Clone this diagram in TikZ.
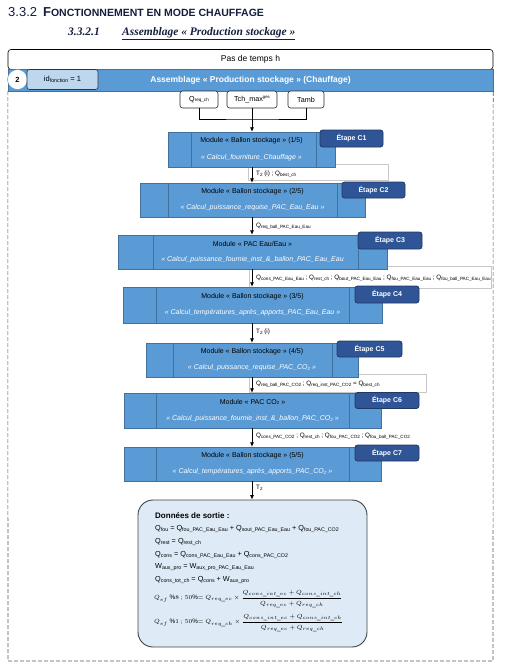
\documentclass[tikz,border=0pt]{standalone}
\usepackage{fontspec}
\setmainfont{Liberation Sans}
\newfontfamily\timesfont{Liberation Serif}
\usetikzlibrary{calc,arrows.meta}
\definecolor{modblue}{HTML}{5B9BD5}
\definecolor{modedge}{HTML}{41719C}
\definecolor{etape}{HTML}{2F5597}
\definecolor{etapeedge}{HTML}{1F3864}
\definecolor{lightfill}{HTML}{BDD7EE}
\definecolor{outfill}{HTML}{DEEBF7}
\definecolor{headnavy}{HTML}{141E3C}
\newcommand{\sbs}[1]{\raisebox{-0.8pt}{\fontsize{4.6}{5}\selectfont #1}}
\newcommand{\sbo}[1]{\raisebox{-0.9pt}{\fontsize{5.3}{6}\selectfont #1}}
\newcommand{\sps}[1]{\raisebox{2.4pt}{\fontsize{4.3}{5}\selectfont #1}}
\newcommand{\cotwo}{CO\raisebox{-0.9pt}{\fontsize{4.5}{5}\selectfont 2}}
\newcommand{\mymodule}[9]{%
  \node[module, minimum width=#4, minimum height=#5] (#1) at (#2,#3) {};
  \draw[modedge, line width=0.5pt] ($(#1.north west)+(#6,0)$) -- ($(#1.south west)+(#6,0)$);
  \draw[modedge, line width=0.5pt] ($(#1.north east)+(-#7,0)$) -- ($(#1.south east)+(-#7,0)$);
  \node[modtitle] (#1t) at ($(#1.center)+(0,-8.5)$) {#8};
  \node[modsub] (#1s) at ($(#1.center)+(0,8)$) {#9};
}
\begin{document}
\begin{tikzpicture}[x=1pt,y=-1pt,
  module/.style={draw=modedge, fill=modblue, line width=0.5pt, inner sep=0pt},
  etapebox/.style={draw=etapeedge, fill=etape, rounded corners=2.5pt, text=white,
    font=\fontsize{7}{8}\selectfont\bfseries, inner sep=0pt, line width=0.7pt},
  modtitle/.style={font=\fontsize{7}{8}\selectfont, text=black, inner sep=0pt},
  modsub/.style={font=\fontsize{7}{8}\selectfont\itshape, text=white, inner sep=0pt},
  flow/.style={-{Latex[length=4.5pt,width=4pt]}, line width=0.7pt},
  lbl/.style={font=\fontsize{6.3}{7}\selectfont, anchor=west, inner sep=0pt},
  lblframe/.style={draw=black!22, line width=0.5pt},
  inbox/.style={draw=black!85, fill=white, rounded corners=2.5pt, line width=0.6pt,
    font=\fontsize{7.2}{8}\selectfont, inner sep=0pt, minimum height=17},
  outline/.style={font=\fontsize{7.3}{8}\selectfont, anchor=west, inner sep=0pt},
]
\useasboundingbox (0,0) rectangle (505,670);

% headings
\node[anchor=base west, inner sep=0pt, text=headnavy] (h1) at (8,16)
  {\fontsize{13}{14}\selectfont 3.3.2\hspace{6pt}\bfseries F\fontsize{10.5}{12}\selectfont ONCTIONNEMENT EN MODE CHAUFFAGE};
\node[anchor=base west, inner sep=0pt, text=headnavy] (h2) at (68,35)
  {\timesfont\fontsize{11.5}{12}\selectfont\bfseries\itshape 3.3.2.1};
\node[anchor=base west, inner sep=0pt, text=headnavy] (h3) at (122,35)
  {\timesfont\fontsize{11.5}{12}\selectfont\bfseries\itshape \underline{Assemblage « Production stockage »}};

% frame
\node[draw=black, fill=white, rounded corners=3pt, line width=0.6pt, minimum width=485, minimum height=20, inner sep=0pt,
  font=\fontsize{8.5}{9}\selectfont] (pas) at (250.5,59.5) {Pas de temps h};
\node[fill=modblue, draw=modedge, line width=0.4pt, minimum width=485, minimum height=22, inner sep=0pt,
  text=white, font=\fontsize{8.5}{9}\selectfont\bfseries] (bar) at (250.5,80) {Assemblage « Production stockage » (Chauffage)};
\coordinate (fbl) at (8,661);
\coordinate (fbr) at (493,661);
\draw[black!65, dashed, dash pattern=on 4pt off 2pt, line width=0.6pt] (bar.south west) -- (fbl) -- (fbr) -- (bar.south east);
\node[circle, fill=white, draw=modblue, line width=0.5pt, minimum size=20, inner sep=0pt,
  font=\fontsize{7.5}{8}\selectfont\bfseries] (num) at (17.5,79.5) {2};
\node[draw=black!80, fill=lightfill, rounded corners=2.5pt, line width=0.6pt, minimum width=71, minimum height=20,
  inner sep=0pt, font=\fontsize{7.5}{8}\selectfont] (idf) at (62.5,79.5) {id\sbo{fonction} = 1};

% inputs
\node[inbox, minimum width=38] (qreq) at (199,99.5) {Q\sbs{req\_ch}};
\node[inbox, minimum width=50] (tch) at (252,99.5) {Tch\_max\sps{ges}};
\node[inbox, minimum width=36] (tamb) at (306,99.5) {Tamb};
\coordinate (ax) at (252,119);
\draw[line width=0.6pt] (qreq.south) |- (ax) -| (tamb.south);

% label frames (behind)
\draw[lblframe] (248,164) rectangle (388,180);
\draw[lblframe] (249,266) rectangle (491,288);
\draw[lblframe] (249,374) rectangle (426,392);

% modules
\mymodule{c1}{251.5}{149.5}{167}{35}{23}{19}{Module « Ballon stockage » (1/5)}{« Calcul\_fourniture\_Chauffage »}
\mymodule{c2}{252.5}{200}{225}{34}{28}{28}{Module « Ballon stockage » (2/5)}{« Calcul\_puissance\_requise\_PAC\_Eau\_Eau »}
\mymodule{c3}{252.5}{252}{269}{34}{35}{29}{Module « PAC Eau/Eau »}{« Calcul\_puissance\_fournie\_inst\_\&\_ballon\_PAC\_Eau\_Eau}
\mymodule{c4}{252.5}{305}{259}{36}{33}{33}{Module « Ballon stockage » (3/5)}{« Calcul\_températures\_après\_apports\_PAC\_Eau\_Eau »}
\mymodule{c5}{252}{360}{212}{34}{27}{26}{Module « Ballon stockage » (4/5)}{« Calcul\_puissance\_requise\_PAC\_\cotwo{} »}
\mymodule{c6}{252.5}{410.5}{257}{35}{32}{32}{Module « PAC \cotwo{} »}{« Calcul\_puissance\_fournie\_inst\_\&\_ballon\_PAC\_\cotwo{} »}
\mymodule{c7}{252.5}{464}{257}{34}{32}{32}{Module « Ballon stockage » (5/5)}{« Calcul\_températures\_après\_apports\_PAC\_\cotwo{} »}

% etapes
\node[etapebox, minimum width=63, minimum height=17] (e1) at (351.5,138.5) {Étape C1};
\node[etapebox, minimum width=63, minimum height=16] (e2) at (373.5,190) {Étape C2};
\node[etapebox, minimum width=64, minimum height=17] (e3) at (390,240.5) {Étape C3};
\node[etapebox, minimum width=64, minimum height=17] (e4) at (387,294.5) {Étape C4};
\node[etapebox, minimum width=65, minimum height=16] (e5) at (369.5,349) {Étape C5};
\node[etapebox, minimum width=64, minimum height=16] (e6) at (387,400.5) {Étape C6};
\node[etapebox, minimum width=64, minimum height=16] (e7) at (387,453) {Étape C7};

% output box
\node[draw=black!75, fill=outfill, rounded corners=15pt, line width=0.9pt, minimum width=229, minimum height=147,
  inner sep=0pt] (out) at (252.5,573.5) {};
\node[outline, font=\fontsize{8}{9}\selectfont\bfseries] (o0) at (155,516) {Données de sortie :};
\node[outline] (o1) at (155,529) {Q\sbo{fou} = Q\sbo{fou\_PAC\_Eau\_Eau} + Q\sbo{sout\_PAC\_Eau\_Eau} + Q\sbo{fou\_PAC\_CO2}};
\node[outline] (o2) at (155,542) {Q\sbo{rest} = Q\sbo{rest\_ch}};
\node[outline] (o3) at (155,555) {Q\sbo{cons} = Q\sbo{cons\_PAC\_Eau\_Eau} + Q\sbo{cons\_PAC\_CO2}};
\node[outline] (o4) at (155,567) {W\sbo{aux\_pro} = W\sbo{aux\_pro\_PAC\_Eau\_Eau}};
\node[outline] (o5) at (155,580) {Q\sbo{cons\_tot\_ch} = Q\sbo{cons} + W\sbo{aux\_pro}};
\node[outline, font=\fontsize{6.4}{7}\selectfont] (o6) at (154,599)
  {$\displaystyle Q_{ef}\ \%8\,;\,50\%{=}\ Q_{req\_ec}\times\frac{Q_{cons\_int\_ec}+Q_{cons\_int\_ch}}{Q_{req\_ec}+Q_{req\_ch}}$};
\node[outline, font=\fontsize{6.4}{7}\selectfont] (o7) at (154,623)
  {$\displaystyle Q_{ef}\ \%1\,;\,50\%{=}\ Q_{req\_ch}\times\frac{Q_{cons\_int\_ec}+Q_{cons\_int\_ch}}{Q_{req\_ec}+Q_{req\_ch}}$};

% connectors
\draw[flow] (tch.south) -- (c1.north -| ax);
\draw[flow] (c1.south -| ax) -- (c2.north -| ax);
\draw[flow] (c2.south -| ax) -- (c3.north -| ax);
\draw[flow] (c3.south -| ax) -- (c4.north -| ax);
\draw[flow] (c4.south -| ax) -- (c5.north -| ax);
\draw[flow] (c5.south -| ax) -- (c6.north -| ax);
\draw[flow] (c6.south -| ax) -- (c7.north -| ax);
\draw[flow] (c7.south -| ax) -- (out.north -| ax);

% connector labels
\node[lbl] (l1) at (256,174) {T\sbs{2} (i) ; Q\sbs{best\_ch}};
\node[lbl] (l2) at (256,226) {Q\sbs{req\_ball\_PAC\_Eau\_Eau}};
\node[lbl] (l3) at (256,278) {Q\sbs{cons\_PAC\_Eau\_Eau} ; Q\sbs{rest\_ch} ; Q\sbs{bout\_PAC\_Eau\_Eau} ; Q\sbs{fou\_PAC\_Eau\_Eau} ; Q\sbs{fou\_ball\_PAC\_Eau\_Eau}};
\node[lbl] (l4) at (256,332) {T\sbs{2} (i)};
\node[lbl] (l5) at (256,384) {Q\sbs{req\_ball\_PAC\_CO2} ; Q\sbs{req\_inst\_PAC\_CO2} = Q\sbs{best\_ch}};
\node[lbl] (l6) at (256,436) {Q\sbs{cons\_PAC\_CO2} ; Q\sbs{rest\_ch} ; Q\sbs{fou\_PAC\_CO2} ; Q\sbs{fou\_ball\_PAC\_CO2}};
\node[lbl] (l7) at (256,488) {T\sbs{2}};
\end{tikzpicture}
\end{document}
